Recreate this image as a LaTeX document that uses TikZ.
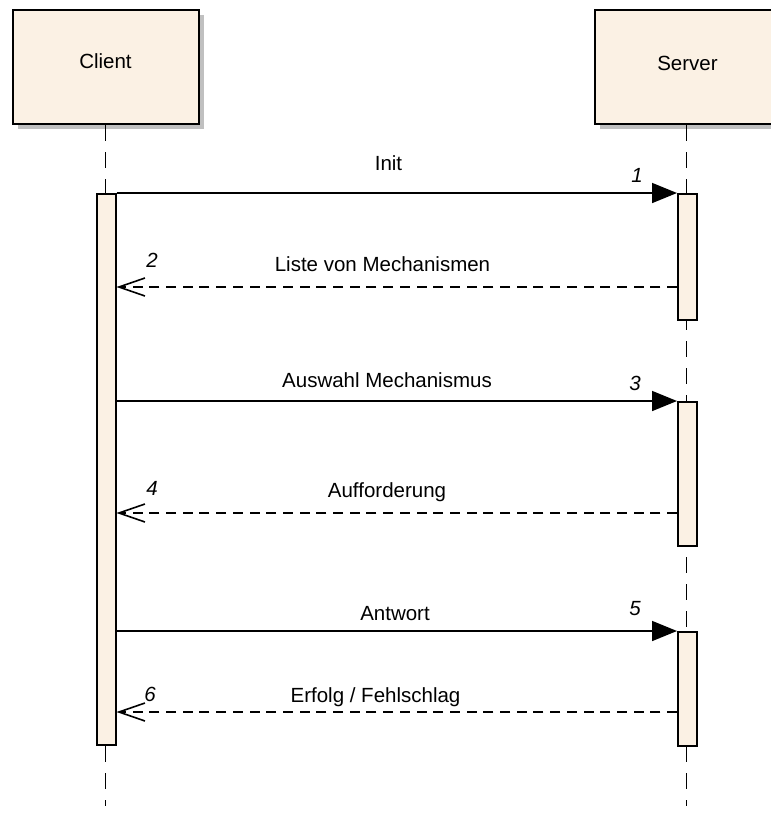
\documentclass[tikz,border=0pt]{standalone}
\usepackage{fontspec}
\setmainfont{Liberation Sans}
\usetikzlibrary{arrows.meta}
\definecolor{lifefill}{RGB}{251,241,228}
\definecolor{shadowgrey}{RGB}{192,192,192}

\begin{document}
\begin{tikzpicture}[x=1pt,y=-1pt,
  font=\fontsize{20.5}{24}\selectfont,
  actor/.style={draw=black, line width=2pt, fill=lifefill, inner sep=0pt,
    minimum width=186pt, minimum height=114pt, anchor=north west},
  actorshadow/.style={fill=shadowgrey},
  bar/.style={draw=black, line width=1.5pt, fill=lifefill, inner sep=0pt,
    minimum width=19pt, anchor=north west},
  lifeline/.style={line width=1.7pt, dash pattern=on 16pt off 11pt},
  call/.style={line width=1.6pt, -{Triangle[length=25pt,width=20pt]}},
  reply/.style={line width=1.6pt, dash pattern=on 10pt off 6.7pt,
    -{Straight Barb[length=26pt,width=18pt,line width=1.6pt]}},
  msg/.style={anchor=base, inner sep=0pt},
  seqno/.style={font=\fontsize{20.5}{24}\selectfont\itshape, inner sep=0pt}
]
\useasboundingbox (0,0) rectangle (771,814);
\clip (0,0) rectangle (771,814);

% participants
\fill[actorshadow] (18,15) rectangle (204,129);
\fill[actorshadow] (600,15) rectangle (786,129);
\node[actor] (client) at (12,9) {};
\node[actor] (server) at (594,9) {};
\node[msg] (clientlbl) at (105.5,68) {Client};
\node[msg] (serverlbl) at (687.5,70) {Server};

% lifelines
\coordinate (clientend) at (105.5,806);
\coordinate (serverend) at (686.5,806);
\draw[lifeline] (client.south -| clientend) -- (clientend);
\draw[lifeline] (server.south -| serverend) -- (serverend);

% activation bars
\node[bar, minimum height=551pt] (cbar) at (96,193) {};
\node[bar, minimum height=126pt] (sbarA) at (677,193) {};
\node[bar, minimum height=144pt] (sbarB) at (677,401) {};
\node[bar, minimum height=114pt] (sbarC) at (677,631) {};

% message ends on the bars
\coordinate (r2) at (677,287);
\coordinate (r4) at (677,513);
\coordinate (r6) at (677,712);

% messages
\draw[call] (cbar.east |- sbarA.north west) -- (sbarA.north west);
\draw[reply] (r2) -- (cbar.east |- r2);
\draw[call] (cbar.east |- sbarB.north west) -- (sbarB.north west);
\draw[reply] (r4) -- (cbar.east |- r4);
\draw[call] (cbar.east |- sbarC.north west) -- (sbarC.north west);
\draw[reply] (r6) -- (cbar.east |- r6);

% message texts
\node[msg] (t1) at (388.5,170) {Init};
\node[msg] (t2) at (382.5,271) {Liste von Mechanismen};
\node[msg] (t3) at (387,387) {Auswahl Mechanismus};
\node[msg] (t4) at (387,497) {Aufforderung};
\node[msg] (t5) at (395,620) {Antwort};
\node[msg] (t6) at (375.5,702) {Erfolg / Fehlschlag};

% sequence numbers
\node[seqno] (n1) at (637,175) {1};
\node[seqno] (n2) at (152,260) {2};
\node[seqno] (n3) at (635,383) {3};
\node[seqno] (n4) at (152,488) {4};
\node[seqno] (n5) at (635,609) {5};
\node[seqno] (n6) at (150,694) {6};
\end{tikzpicture}
\end{document}
